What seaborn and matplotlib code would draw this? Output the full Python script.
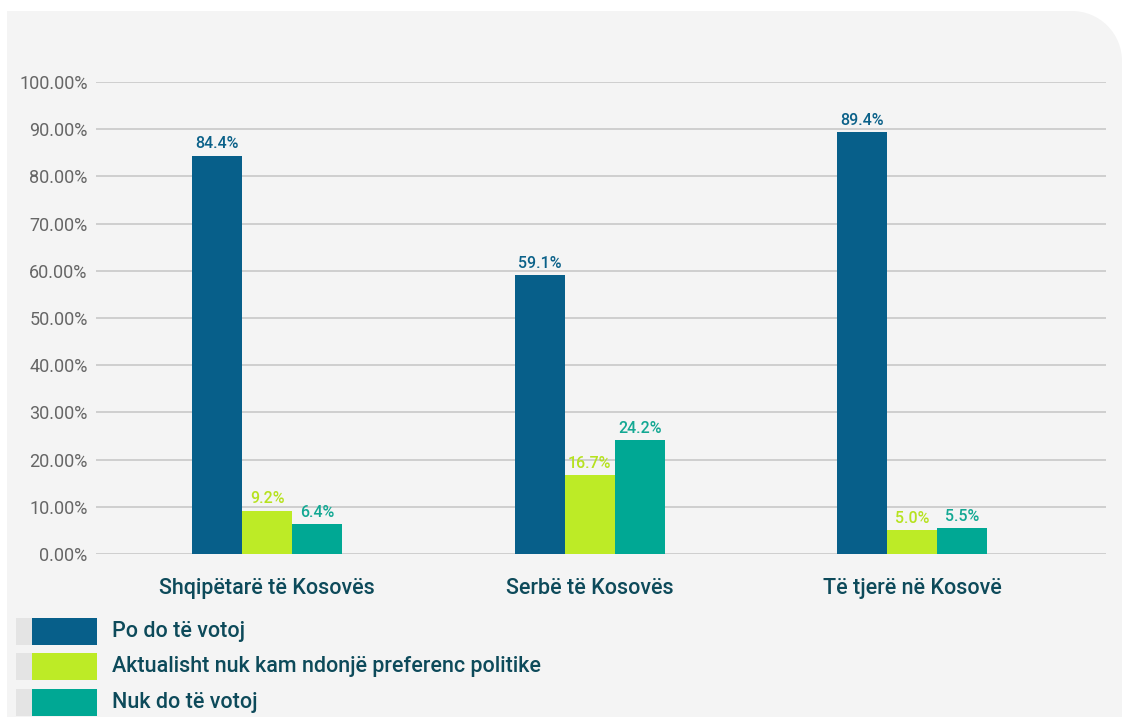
import matplotlib
matplotlib.use("Agg")
import matplotlib.pyplot as plt
import seaborn as sns
import pandas as pd
from matplotlib.patches import Rectangle, Ellipse

# Data
categories = ["Shqipëtarë të Kosovës", "Serbë të Kosovës", "Të tjerë në Kosovë"]
series = ["Po do të votoj", "Aktualisht nuk kam ndonjë preferenc politike", "Nuk do të votoj"]
po_votoj = [84.4, 59.1, 89.4]
pa_preference = [9.2, 16.7, 5.0]
nuk_votoj = [6.4, 24.2, 5.5]
colors = ["#075f8a", "#bdeb26", "#00a894"]
label_colors = ["#0b6189", "#b6e21f", "#13a893"]
yticks = [0, 10, 20, 30, 40, 50, 60, 70, 80, 90, 100]

rows = []
for s, vals in zip(series, [po_votoj, pa_preference, nuk_votoj]):
    for c, v in zip(categories, vals):
        rows.append({"category": c, "series": s, "value": v})
df = pd.DataFrame(rows)

sns.set_style("white")
plt.rcParams['font.family'] = ['Roboto', 'DejaVu Sans']

fig = plt.figure(figsize=(11.22, 7.17), dpi=100)
fig.patch.set_facecolor("white")

# Background panel with rounded top-right corner (pixel -> inches)
tr = fig.dpi_scale_trans
r = 0.5
x0, y0, x1, y1 = 0.07, 0.0, 11.22, 7.06
bg = "#f4f4f4"
fig.patches.append(Rectangle((x0, y0), x1 - x0, y1 - y0 - r, transform=tr, facecolor=bg, edgecolor="none", zorder=-5))
fig.patches.append(Rectangle((x0, y0), x1 - x0 - r, y1 - y0, transform=tr, facecolor=bg, edgecolor="none", zorder=-5))
fig.patches.append(Ellipse((x1 - r, y1 - r), 2 * r, 2 * r, transform=tr, facecolor=bg, edgecolor="none", zorder=-5))

ax = fig.add_axes([96 / 1122, (717 - 554) / 717, (1106 - 96) / 1122, (554 - 82) / 717])
ax.set_facecolor("none")
ax.set_zorder(2)

sns.barplot(data=df, x="category", y="value", hue="series", order=categories, hue_order=series,
            palette=colors, width=0.465, saturation=1, linewidth=0, ax=ax, legend=False, zorder=3)

for cont, lc in zip(ax.containers, label_colors):
    ax.bar_label(cont, labels=[f"{v:.1f}%" for v in cont.datavalues], padding=3,
                 color=lc, fontsize=11.5, fontweight="medium")

ax.set_ylim(0, 100)
ax.set_xlim(-0.53, 2.60)
ax.set_yticks(yticks)
ax.set_yticklabels([f"{t:.2f}%" for t in yticks], color="#666666", fontsize=13)
ax.tick_params(axis="y", length=0, pad=6)
ax.tick_params(axis="x", length=0, pad=17)
for lbl in ax.get_xticklabels():
    lbl.set_color("#0d4a5a")
    lbl.set_fontsize(15.5)
    lbl.set_fontweight("medium")
ax.yaxis.grid(True, color="#c4c4c4", linewidth=1.1, zorder=0)
ax.set_axisbelow(True)
ax.set_xlabel("")
ax.set_ylabel("")
for sp in ax.spines.values():
    sp.set_visible(False)

# Legend (manual, in pixels)
row_tops = [618, 653, 689]
for s, col, top in zip(series, colors, row_tops):
    h = 27
    fig.patches.append(Rectangle((0.16, (717 - top - h) / 100), 0.16, h / 100, transform=tr,
                                 facecolor="#e4e4e4", edgecolor="none", zorder=1))
    fig.patches.append(Rectangle((0.32, (717 - top - h) / 100), 0.65, h / 100, transform=tr,
                                 facecolor=col, edgecolor="none", zorder=1))
    fig.text(112 / 1122, (717 - top - h / 2) / 717, s, color="#0d4a5a", fontsize=15.5,
             fontweight="medium", va="center", ha="left")

fig.savefig("out.png", dpi=100, facecolor=fig.get_facecolor())
